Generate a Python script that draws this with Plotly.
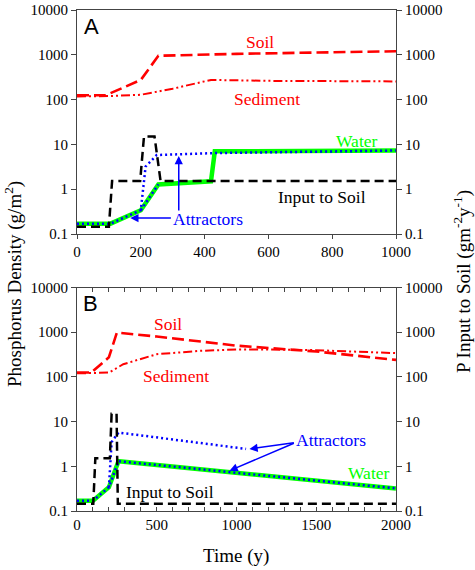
import plotly.graph_objects as go

# ---------------- Panel A data (time 0-1000 y) ----------------
a_soil_t = [0, 90, 200, 255, 500, 1000]
a_soil_v = [125, 125, 275, 950, 1050, 1200]

a_sed_t = [0, 100, 200, 300, 420, 600, 1000]
a_sed_v = [118, 120, 128, 175, 275, 262, 255]

a_input_t = [0, 100, 110, 198, 210, 243, 262, 1000]
a_input_v = [0.145, 0.145, 1.52, 1.52, 15, 15, 1.52, 1.52]

a_water_t = [0, 105, 200, 255, 420, 432, 1000]
a_water_v = [0.17, 0.17, 0.34, 1.28, 1.5, 7.0, 7.3]

a_attr_t = [0, 105, 200, 215, 250, 430, 1000]
a_attr_v = [0.17, 0.17, 0.34, 3.2, 5.8, 6.4, 7.3]
a_attr2_t = [200, 255]
a_attr2_v = [0.34, 1.28]

# ---------------- Panel B data (time 0-2000 y) ----------------
b_soil_t = [0, 90, 200, 250, 500, 1000, 1500, 2000]
b_soil_v = [125, 125, 275, 980, 800, 500, 370, 240]

b_sed_t = [0, 200, 290, 500, 770, 1000, 1150, 1460, 2000]
b_sed_v = [120, 125, 192, 322, 382, 410, 412, 400, 340]

b_input_t = [0, 102, 115, 206, 217, 248, 256, 2000]
b_input_v = [0.145, 0.145, 1.52, 1.52, 15, 15, 0.145, 0.145]

b_water_t = [0, 100, 200, 260, 2000]
b_water_v = [0.17, 0.17, 0.34, 1.3, 0.32]

b_attr_t = [0, 100, 200, 260, 2000]
b_attr_v = [0.17, 0.17, 0.34, 1.3, 0.32]
b_attr2_t = [200, 217, 260, 1060]
b_attr2_v = [0.34, 3.5, 5.7, 2.45]

y_tickvals = [0.1, 1, 10, 100, 1000, 10000]
y_ticktext = ["0.1", "1", "10", "100", "1000", "10000"]
a_xticks = [0, 200, 400, 600, 800, 1000]
b_xticks = [0, 500, 1000, 1500, 2000]

RED = "#FF0000"
GREEN = "#00FF00"
BLUE = "#0000FF"
SERIF = "Liberation Serif, Times New Roman, serif"
SANS = "Liberation Sans, Arial, sans-serif"

W, H = 475, 570


def px(xp):
    return xp / W


def py(yp):
    return 1 - yp / H


fig = go.Figure()


def add_panel(xa, ya, yr, soil, sed, inp, water, attr, attr2):
    fig.add_trace(go.Scatter(x=sed[0], y=sed[1], mode="lines", xaxis=xa, yaxis=ya,
                             line=dict(color=RED, width=2, dash="9px,3px,2px,3px,2px,3px")))
    fig.add_trace(go.Scatter(x=soil[0], y=soil[1], mode="lines", xaxis=xa, yaxis=ya,
                             line=dict(color=RED, width=2.6, dash="12px,5px")))
    fig.add_trace(go.Scatter(x=water[0], y=water[1], mode="lines", xaxis=xa, yaxis=ya,
                             line=dict(color=GREEN, width=4.5)))
    fig.add_trace(go.Scatter(x=attr2[0], y=attr2[1], mode="lines", xaxis=xa, yaxis=ya,
                             line=dict(color=BLUE, width=2.5, dash="2px,3px")))
    fig.add_trace(go.Scatter(x=attr[0], y=attr[1], mode="lines", xaxis=xa, yaxis=ya,
                             line=dict(color=BLUE, width=2.5, dash="2px,3px")))
    fig.add_trace(go.Scatter(x=inp[0], y=inp[1], mode="lines", xaxis=xa, yaxis=yr,
                             line=dict(color="black", width=2.5, dash="9px,5px")))


add_panel("x", "y", "y3", (a_soil_t, a_soil_v), (a_sed_t, a_sed_v), (a_input_t, a_input_v),
          (a_water_t, a_water_v), (a_attr_t, a_attr_v), (a_attr2_t, a_attr2_v))
add_panel("x2", "y2", "y4", (b_soil_t, b_soil_v), (b_sed_t, b_sed_v), (b_input_t, b_input_v),
          (b_water_t, b_water_v), (b_attr_t, b_attr_v), (b_attr2_t, b_attr2_v))

tickfont = dict(family=SERIF, size=15, color="black")
AXC = "#444444"
xdom = [px(77), px(396)]

common_y = dict(type="log", range=[-1, 4], tickvals=y_tickvals, ticktext=y_ticktext,
                showgrid=False, zeroline=False, showline=True, linecolor=AXC, linewidth=1,
                ticks="outside", ticklen=5, tickcolor=AXC, tickfont=tickfont, automargin=False,
                ticklabeloverflow="allow")

fig.update_layout(
    width=W, height=H, margin=dict(l=0, r=0, t=0, b=0, autoexpand=False),
    paper_bgcolor="white", plot_bgcolor="white", showlegend=False,
    xaxis=dict(domain=xdom, anchor="y", range=[0, 1000], tickvals=a_xticks, automargin=False,
               showgrid=False, zeroline=False, showline=True, mirror=True, linecolor=AXC,
               linewidth=1, ticks="outside", ticklen=4, tickcolor=AXC, tickfont=tickfont,
               ticklabeloverflow="allow"),
    yaxis=dict(domain=[py(234), py(10)], anchor="x", **common_y),
    yaxis3=dict(overlaying="y", side="right", anchor="x", **common_y),
    xaxis2=dict(domain=xdom, anchor="y2", range=[0, 2000], tickvals=b_xticks, automargin=False,
                showgrid=False, zeroline=False, showline=True, mirror="allticks", linecolor=AXC,
                linewidth=1, ticks="inside", ticklen=4, tickcolor=AXC, tickfont=tickfont,
                ticklabeloverflow="allow",
                minor=dict(dtick=100, ticks="inside", ticklen=4, tickcolor=AXC)),
    yaxis2=dict(domain=[py(511), py(287.5)], anchor="x2", **common_y),
    yaxis4=dict(overlaying="y2", side="right", anchor="x2", **common_y),
)

ann = []


def label(text, x, logy, xref, yref, color, size=17.5, family=SERIF):
    ann.append(dict(text=text, x=x, y=logy, xref=xref, yref=yref, showarrow=False,
                    xanchor="center", yanchor="middle",
                    font=dict(family=family, size=size, color=color)))


def arrow(x, logy, ax, alogy, xref, yref):
    ann.append(dict(text="", x=x, y=logy, ax=ax, ay=alogy, xref=xref, yref=yref,
                    axref=xref, ayref=yref, showarrow=True, arrowhead=2, arrowsize=1.1,
                    arrowwidth=1.5, arrowcolor=BLUE))


# Panel A labels
label("A", 44, 3.63, "x", "y", "black", size=22, family=SANS)
label("Soil", 573, 3.29, "x", "y", RED)
label("Sediment", 595, 2.01, "x", "y", RED)
label("Water", 878, 1.08, "x", "y", GREEN)
label("Input to Soil", 767, -0.17, "x", "y", "black")
label("Attractors", 411, -0.665, "x", "y", BLUE)
arrow(167, -0.643, 299, -0.643, "x", "y")
arrow(319, 0.74, 319, -0.51, "x", "y")

# Panel B labels
label("B", 86, 3.65, "x2", "y2", "black", size=22, family=SANS)
label("Soil", 571, 3.18, "x2", "y2", RED)
label("Sediment", 623, 2.02, "x2", "y2", RED)
label("Water", 1831, -0.14, "x2", "y2", GREEN)
label("Input to Soil", 586, -0.57, "x2", "y2", "black")
label("Attractors", 1592, 0.59, "x2", "y2", BLUE)
arrow(1081, 0.387, 1369, 0.53, "x2", "y2")
arrow(956, -0.098, 1369, 0.53, "x2", "y2")

# Axis titles
ann.append(dict(text="Phosphorus Density (g/m<sup>2</sup>)", x=px(13), y=py(284),
                xref="paper", yref="paper", showarrow=False, textangle=-90,
                xanchor="center", yanchor="middle",
                font=dict(family=SERIF, size=19, color="black")))
ann.append(dict(text="P Input to Soil (gm<sup>-2</sup>y<sup>-1</sup>)", x=px(462), y=py(282),
                xref="paper", yref="paper", showarrow=False, textangle=-90,
                xanchor="center", yanchor="middle",
                font=dict(family=SERIF, size=19, color="black")))
ann.append(dict(text="Time (y)", x=px(236), y=py(556),
                xref="paper", yref="paper", showarrow=False,
                xanchor="center", yanchor="middle",
                font=dict(family=SERIF, size=19, color="black")))

fig.update_layout(annotations=ann)
# remove the browser's default 8px page margin so the figure sits at the window's corner
fig.write_html("out.html", config={"displayModeBar": False},
               post_script="document.body.style.margin='0px';")
